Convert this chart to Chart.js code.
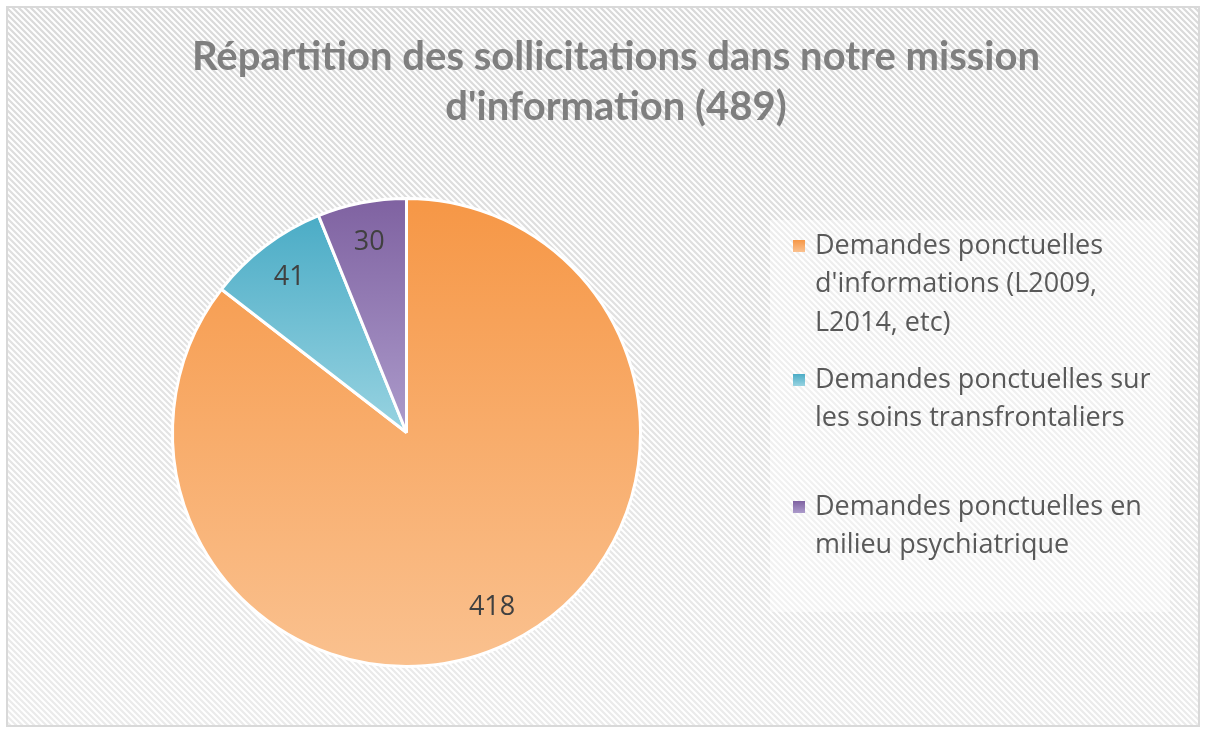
<!DOCTYPE html>
<html>
<head>
<meta charset="utf-8">
<script src="https://cdn.jsdelivr.net/npm/chart.js@4"></script>
<style>
html,body{margin:0;padding:0;background:#fff;}
canvas{display:block;}
</style>
</head>
<body>
<canvas id="c" width="1206" height="733"></canvas>
<script>
const titleLines = ["Répartition des sollicitations dans notre mission", "d'information (489)"];
const categories = [
  "Demandes ponctuelles d'informations (L2009, L2014, etc)",
  "Demandes ponctuelles sur les soins transfrontaliers",
  "Demandes ponctuelles en milieu psychiatrique"
];
const legendLines = [
  ["Demandes ponctuelles", "d'informations (L2009,", "L2014, etc)"],
  ["Demandes ponctuelles sur", "les soins transfrontaliers"],
  ["Demandes ponctuelles en", "milieu psychiatrique"]
];
const values = [418, 41, 30];
const topColors = ["#F69746", "#4BACC6", "#7F62A1"];
const bottomColors = ["#FAC18F", "#98D3E1", "#AC9BCB"];

const W = 1206, H = 733;

function sliceBBox(cx, cy, r, a0, a1) {
  let ys = [cy, cy + r * Math.sin(a0), cy + r * Math.sin(a1)];
  for (let k = -4; k <= 8; k++) {
    const a = k * Math.PI / 2;
    if (a > a0 && a < a1) ys.push(cy + r * Math.sin(a));
  }
  return [Math.min(...ys), Math.max(...ys)];
}

function sliceGradient(context) {
  const chart = context.chart;
  const ca = chart.chartArea;
  const i = context.dataIndex;
  if (!ca) return topColors[i];
  const cx = (ca.left + ca.right) / 2, cy = (ca.top + ca.bottom) / 2;
  const r = (Math.min(ca.right - ca.left, ca.bottom - ca.top) - 3) / 2;
  const total = values.reduce((a, b) => a + b, 0);
  let cum = 0;
  for (let k = 0; k < i; k++) cum += values[k];
  const a0 = -Math.PI / 2 + cum / total * 2 * Math.PI;
  const a1 = -Math.PI / 2 + (cum + values[i]) / total * 2 * Math.PI;
  const [y0, y1] = sliceBBox(cx, cy, r, a0, a1);
  const g = chart.ctx.createLinearGradient(0, y0, 0, y1);
  g.addColorStop(0, topColors[i]);
  g.addColorStop(1, bottomColors[i]);
  return g;
}

const backgroundPlugin = {
  id: 'bg',
  beforeDraw(chart) {
    const ctx = chart.ctx;
    ctx.save();
    ctx.fillStyle = '#ffffff';
    ctx.fillRect(0, 0, W, H);
    const x0 = 8, y0 = 8, x1 = 1198, y1 = 725;
    ctx.beginPath();
    ctx.rect(x0, y0, x1 - x0, y1 - y0);
    ctx.clip();
    const g = ctx.createLinearGradient(0, y0, 0, y1);
    g.addColorStop(0, '#d9d9d9');
    g.addColorStop(1, '#ebebeb');
    ctx.strokeStyle = g;
    ctx.lineWidth = 2.2;
    ctx.beginPath();
    for (let k = -H; k < W + 10; k += 6) {
      ctx.moveTo(k, 0);
      ctx.lineTo(k + H, H);
    }
    ctx.stroke();
    ctx.fillStyle = 'rgba(255,255,255,0.45)';
    ctx.fillRect(770, 220, 400, 392);
    ctx.restore();
    ctx.save();
    ctx.strokeStyle = '#d9d9d9';
    ctx.lineWidth = 2;
    ctx.strokeRect(7, 7, 1192, 719);
    ctx.restore();
    ctx.save();
    ctx.fillStyle = '#7f7f7f';
    ctx.font = 'bold 40px Lato, "Open Sans", sans-serif';
    ctx.textAlign = 'center';
    ctx.textBaseline = 'middle';
    ctx.fillText(titleLines[0], 616, 57);
    ctx.fillText(titleLines[1], 616, 107);
    ctx.restore();
  }
};

const labelPlugin = {
  id: 'sliceLabels',
  afterDatasetsDraw(chart) {
    const ctx = chart.ctx;
    const meta = chart.getDatasetMeta(0);
    ctx.save();
    ctx.fillStyle = '#404040';
    ctx.font = '27px "Open Sans", Lato, sans-serif';
    ctx.textAlign = 'center';
    ctx.textBaseline = 'middle';
    meta.data.forEach((arc, i) => {
      const p = arc.getProps(['x', 'y', 'startAngle', 'endAngle', 'outerRadius'], true);
      const mid = (p.startAngle + p.endAngle) / 2;
      const d = p.outerRadius * 0.83;
      ctx.fillText(String(values[i]), p.x + Math.cos(mid) * d, p.y + Math.sin(mid) * d);
    });
    ctx.restore();
  }
};

const legendPlugin = {
  id: 'customLegend',
  afterDraw(chart) {
    const ctx = chart.ctx;
    const itemY = [246, 380, 507];
    const lineH = 38.5;
    ctx.save();
    ctx.font = '27px "Open Sans", Lato, sans-serif';
    ctx.textBaseline = 'middle';
    ctx.textAlign = 'left';
    legendLines.forEach((lines, i) => {
      const y = itemY[i];
      const g = ctx.createLinearGradient(0, y - 6, 0, y + 6);
      g.addColorStop(0, topColors[i]);
      g.addColorStop(1, bottomColors[i]);
      ctx.fillStyle = g;
      ctx.fillRect(793, y - 6, 12, 12);
      ctx.fillStyle = '#595959';
      lines.forEach((t, j) => ctx.fillText(t, 815, y + j * lineH));
    });
    ctx.restore();
  }
};

new Chart(document.getElementById('c'), {
  type: 'pie',
  data: {
    labels: categories,
    datasets: [{
      data: values,
      backgroundColor: sliceGradient,
      borderColor: '#ffffff',
      borderWidth: 3,
      hoverBorderWidth: 3,
      hoverOffset: 0
    }]
  },
  options: {
    responsive: false,
    animation: false,
    events: [],
    layout: { padding: { left: 171, top: 197, right: 564, bottom: 65 } },
    plugins: {
      legend: { display: false },
      title: { display: false },
      tooltip: { enabled: false }
    }
  },
  plugins: [backgroundPlugin, labelPlugin, legendPlugin]
});
</script>
</body>
</html>
